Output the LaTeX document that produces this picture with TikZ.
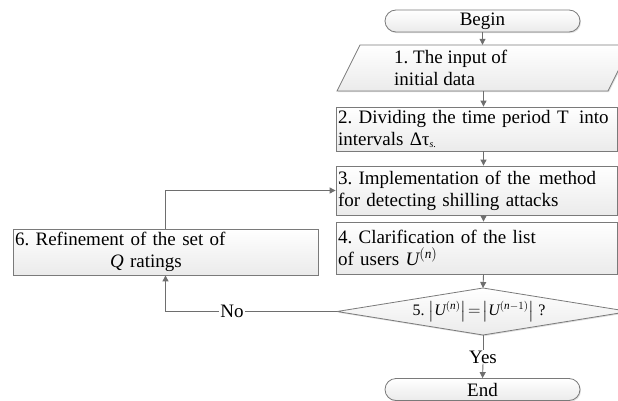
\documentclass[tikz,border=0pt]{standalone}
\usepackage{amsmath}
\usepackage{fontspec}
\setmainfont{Liberation Serif}
\usetikzlibrary{arrows.meta,shadows}
\frenchspacing
\definecolor{linegray}{HTML}{6E6E6E}
\definecolor{edgegray}{HTML}{7A7A7A}
\newcommand{\Uit}{\text{\itshape U}}
\newcommand{\nit}{\text{\itshape n}}
\tikzset{
  fc/.style={draw=edgegray, line width=0.8pt, top color=white, bottom color=gray!16,
    drop shadow={shadow xshift=1pt, shadow yshift=-1.2pt, opacity=0.25}},
  box/.style={fc, rectangle, align=left, inner xsep=2pt, inner ysep=0pt, font=\fontsize{19}{22}\selectfont},
  term/.style={fc, rectangle, rounded corners=11pt, minimum width=195pt, minimum height=22pt,
    inner sep=0pt, font=\fontsize{19}{22}\selectfont},
  txt/.style={inner sep=0pt, font=\fontsize{19}{22}\selectfont},
  conn/.style={draw=linegray, line width=0.9pt},
  arr/.style={conn, -{Triangle[width=6pt,length=6pt]}},
}
\begin{document}
\begin{tikzpicture}[x=1pt,y=-1pt]
\useasboundingbox (0,0) rectangle (618,401);
% terminators
\node[term] (begin) at (482.5,21) {Begin};
\node[term] (end) at (482.5,389.5) {End};
% parallelogram
\node[rectangle, minimum width=295pt, minimum height=46pt, inner sep=0pt] (in1) at (483.5,68) {};
\path[fc] (360,45) -- (631,45) -- (608,91) -- (337,91) -- cycle;
\node[txt, anchor=west, align=left] (in1t) at (394,68) {1. The input of\\initial data};
% boxes
\node[box, text width=277pt, minimum height=44pt] (b2) at (476.5,129)
  {\mbox{2. Dividing the time period T\hspace{0.55em}into}\\intervals Δτ\raisebox{-2.5pt}{\fontsize{10}{10}\selectfont\itshape s.}};
\node[box, text width=277pt, minimum height=49pt] (b3) at (476.5,190.5)
  {\mbox{3. Implementation of the\hspace{0.45em}method}\\for detecting shilling attacks};
\node[box, text width=277pt, minimum height=52pt] (b4) at (476.5,248)
  {4. Clarification of the list\\of users $\Uit^{(\nit)}$};
\node[box, text width=301pt, minimum height=46pt] (b6) at (165.5,252)
  {6. Refinement of the set of\\\hspace*{95pt}\textit{Q} ratings};
% diamond
\coordinate (dtop) at (483,288);
\coordinate (dbot) at (483,335);
\coordinate (dleft) at (337,311.5);
\path[fc] (dleft) -- (dtop) -- (629,311.5) -- (dbot) -- cycle;
\node[txt, font=\fontsize{16}{18}\selectfont] (dtxt) at (479,311.5)
  {5. $\left|\Uit^{(\nit)}\right|\!=\!\left|\Uit^{(\nit-1)}\right|$ ?};
% labels
\node[txt, fill=white, inner xsep=1pt] (yes) at (483,357) {Yes};
% connectors
\draw[arr] (begin.south) -- (begin.south |- in1.north);
\draw[arr] (in1.south) -- (in1.south |- b2.north);
\draw[arr] (in1.south |- b2.south) -- (in1.south |- b3.north);
\draw[arr] (in1.south |- b3.south) -- (in1.south |- b4.north);
\draw[arr] (in1.south |- b4.south) -- (dtop);
\draw[conn] (dbot) -- (yes.north);
\draw[arr] (yes.south) -- (end.north);
\draw[arr] (dleft) -- (b6.south |- dleft) -- (b6.south);
\node[txt, fill=white, inner xsep=1pt] (no) at (232,311.5) {No};
\draw[arr] (b6.north) -- (b6.north |- b3.west) -- (b3.west);
\end{tikzpicture}
\end{document}
